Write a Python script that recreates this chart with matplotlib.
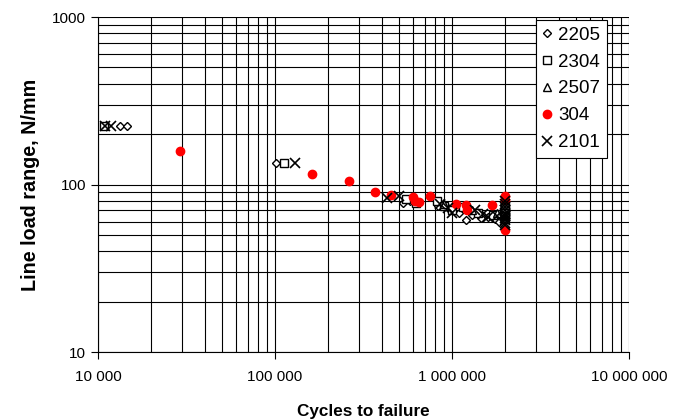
import matplotlib
matplotlib.use("Agg")
import matplotlib.pyplot as plt
from matplotlib.ticker import LogLocator, NullFormatter

plt.rcParams['font.family'] = ['Liberation Sans', 'DejaVu Sans']

# Data: (cycles, line load range)
x_2205 = [1.33e4, 1.45e4, 1.01e5, 5.3e5, 5.8e5, 8.3e5, 9.5e5, 1.1e6, 1.2e6, 1.3e6, 1.45e6, 1.6e6, 1.75e6, 1.85e6, 2.0e6, 2.0e6, 2.0e6]
y_2205 = [224, 224, 134, 78, 80, 74, 72, 68, 61, 66, 63, 64, 62, 60, 63, 67, 70]

x_2304 = [1.08e4, 1.13e5, 5.5e5, 6.3e5, 8.2e5, 9.0e5, 1.0e6, 1.15e6, 1.4e6, 1.7e6, 2.0e6, 2.0e6, 2.0e6, 2.0e6, 2.0e6]
y_2304 = [224, 134, 82, 78, 80, 74, 70, 73, 68, 66, 62, 65, 68, 72, 75]

x_2507 = [9.0e5, 1.3e6, 1.8e6, 2.0e6]
y_2507 = [76, 70, 68, 66]

x_304 = [2.9e4, 1.62e5, 2.62e5, 3.67e5, 4.5e5, 6.0e5, 6.2e5, 6.5e5, 7.5e5, 1.05e6, 1.2e6, 1.22e6, 1.68e6, 2.0e6, 2.0e6, 2.0e6]
y_304 = [158, 116, 105, 90, 87, 84, 80, 79, 85, 76, 75, 70, 75, 85, 81, 53.5]

x_2101 = [1.1e4, 1.18e4, 1.3e5, 4.3e5, 5.0e5, 8.5e5, 9.5e5, 1.0e6, 1.35e6, 1.5e6, 1.6e6, 1.8e6,
          2.0e6, 2.0e6, 2.0e6, 2.0e6, 2.0e6, 2.0e6, 2.0e6, 2.0e6, 2.0e6, 2.0e6]
y_2101 = [224, 224, 134, 83, 85, 77, 72, 68, 70, 67, 64, 65,
          57, 59, 61, 63, 65, 67, 70, 73, 76, 80]

x_ticks = [1e4, 1e5, 1e6, 1e7]
x_tick_labels = ["10 000", "100 000", "1 000 000", "10 000 000"]
y_ticks = [10, 100, 1000]
y_tick_labels = ["10", "100", "1000"]

fig = plt.figure(figsize=(6.88, 4.19), dpi=100)
ax = fig.add_axes([98/688, 67/419, 531/688, 335/419])
ax.set_xscale('log')
ax.set_yscale('log')
ax.set_xlim(1e4, 1e7)
ax.set_ylim(10, 1000)

ax.grid(True, which='major', color='black', linewidth=0.8)
ax.grid(True, which='minor', color='black', linewidth=0.8)
ax.set_axisbelow(True)
ax.xaxis.set_minor_locator(LogLocator(base=10, subs=range(2, 10)))
ax.yaxis.set_minor_locator(LogLocator(base=10, subs=range(2, 10)))
ax.xaxis.set_minor_formatter(NullFormatter())
ax.yaxis.set_minor_formatter(NullFormatter())
ax.set_xticks(x_ticks)
ax.set_xticklabels(x_tick_labels)
ax.set_yticks(y_ticks)
ax.set_yticklabels(y_tick_labels)
ax.tick_params(which='minor', length=0)
ax.tick_params(which='major', length=5, direction='out', labelsize=11, width=0.8)
ax.tick_params(axis='x', which='major', pad=8)
for s in ['right', 'top']:
    ax.spines[s].set_visible(False)

ax.plot(x_2205, y_2205, linestyle='none', marker='D', markersize=4.5, markerfacecolor='white',
        markeredgecolor='black', markeredgewidth=1.0, label='2205')
ax.plot(x_2304, y_2304, linestyle='none', marker='s', markersize=5.5, markerfacecolor='white',
        markeredgecolor='black', markeredgewidth=1.0, label='2304')
ax.plot(x_2507, y_2507, linestyle='none', marker='^', markersize=5.5, markerfacecolor='white',
        markeredgecolor='black', markeredgewidth=1.0, label='2507')
ax.plot(x_304, y_304, linestyle='none', marker='o', markersize=6, markerfacecolor='red',
        markeredgecolor='red', label='304')
ax.plot(x_2101, y_2101, linestyle='none', marker='x', markersize=7, color='black',
        markeredgewidth=1.2, label='2101')

leg = ax.legend(loc='upper right', fontsize=13.5, frameon=True, fancybox=False, edgecolor='black',
                framealpha=1, handlelength=0.5, handletextpad=0.35, labelspacing=0.52,
                borderpad=0.35, borderaxespad=0.0)
leg.get_frame().set_linewidth(0.8)
leg.set_bbox_to_anchor(((607 - 98) / 531, (352 - 20) / 335), transform=ax.transAxes)

ax.set_xlabel('Cycles to failure', fontsize=12.3, fontweight='bold', labelpad=14)
ax.set_ylabel('Line load range, N/mm', fontsize=14.2, fontweight='bold', labelpad=9)

fig.savefig('out.png', dpi=100)
